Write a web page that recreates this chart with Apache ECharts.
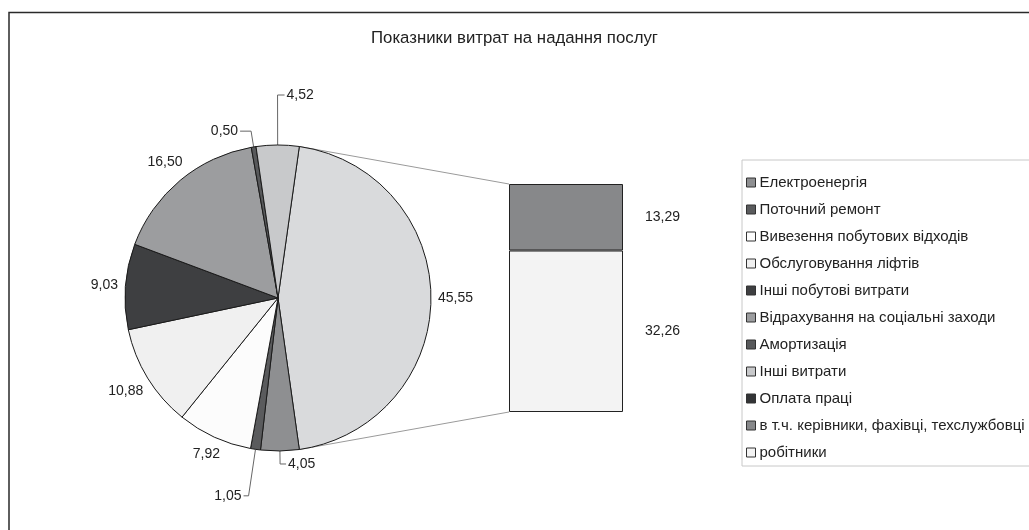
<!DOCTYPE html>
<html>
<head>
<meta charset="utf-8">
<script src="https://cdn.jsdelivr.net/npm/echarts@6/dist/echarts.min.js"></script>
<style>
  html, body { margin: 0; padding: 0; background: #fff; }
  #chart { width: 1029px; height: 530px; }
</style>
</head>
<body>
<div id="chart"></div>
<script>
// data
const pieNames = [
  "Електроенергія",
  "Поточний ремонт",
  "Вивезення побутових відходів",
  "Обслуговування ліфтів",
  "Інші побутові витрати",
  "Відрахування на соціальні заходи",
  "Амортизація",
  "Інші витрати"
];
const pieValues = [4.05, 1.05, 7.92, 10.88, 9.03, 16.50, 0.50, 4.52];
const otherName = "Оплата праці";
const barNames = ["в т.ч. керівники, фахівці, техслужбовці", "робітники"];
const barValues = [13.29, 32.26];

// styles
const pieColors = ["#8e8f91", "#5a5b5d", "#fcfcfc", "#f0f0f0", "#3e3f41", "#9c9d9f", "#58595b", "#c8c9cb"];
const otherColor = "#d9dadc";
const otherLegendColor = "#333436";
const barColors = ["#87888a", "#f3f3f3"];
const font = "'Liberation Sans', Arial, sans-serif";

const cx = 278, cy = 298, R = 153;
const gridLeft = 509, gridTop = 184, gridW = 114, gridH = 228;

// which slices get a leader line: radial length, horizontal length, side
const leaders = {
  "Інші витрати": { len: 50, len2: 7, side: 1 },
  "Амортизація": { len: 16, len2: 11, side: -1 },
  "Поточний ремонт": { len: 47, len2: 5, side: -1 },
  "Електроенергія": { len: 13, len2: 6, side: 1 }
};

const otherValue = barValues.reduce((a, b) => a + b, 0);
const total = otherValue + pieValues.reduce((a, b) => a + b, 0);
const startAngle = 360 * otherValue / total / 2;

// slice order clockwise: the "other" slice first, then the rest
const sliceNames = [otherName].concat(pieNames);
const sliceValues = [otherValue].concat(pieValues);
const sliceColors = [otherColor].concat(pieColors);

const midAngles = [];
let acc = 0;
sliceValues.forEach(v => {
  const span = 360 * v / total;
  midAngles.push(startAngle - acc - span / 2);
  acc += span;
});

const fmt = v => v.toFixed(2).replace(".", ",");

const chart = echarts.init(document.getElementById("chart"));

const legendData = pieNames.map(n => ({ name: n }))
  .concat([{ name: otherName, itemStyle: { color: otherLegendColor } }])
  .concat(barNames.map(n => ({ name: n })));

const option = {
  animation: false,
  textStyle: { fontFamily: font },
  title: {
    text: "Показники витрат на надання послуг",
    left: "center",
    top: 25,
    textStyle: { fontSize: 16.8, fontWeight: "normal", color: "#222", fontFamily: font }
  },
  legend: {
    orient: "vertical",
    left: 742,
    top: 160,
    data: legendData,
    icon: "rect",
    itemWidth: 9,
    itemHeight: 9,
    itemGap: 12,
    padding: [15, 60, 6, 4],
    borderColor: "#c8c8c8",
    borderWidth: 1,
    itemStyle: { borderColor: "#333", borderWidth: 1 },
    textStyle: { fontSize: 15, color: "#222", fontFamily: font, padding: [0, 0, 0, -1] }
  },
  grid: { left: gridLeft, top: gridTop, width: gridW, height: gridH },
  xAxis: { type: "category", data: [otherName], show: false },
  yAxis: { type: "value", min: 0, max: otherValue, show: false },
  graphic: [{
    id: "frame",
    type: "rect",
    shape: { x: 9, y: 12.5, width: 1100, height: 600 },
    style: { fill: "none", stroke: "#2a2a2a", lineWidth: 1.5 },
    silent: true
  }],
  series: [
    {
      type: "pie",
      center: [cx, cy],
      radius: R,
      startAngle: startAngle,
      clockwise: true,
      avoidLabelOverlap: false,
      data: sliceNames.map((n, i) => ({
        name: n,
        value: sliceValues[i],
        itemStyle: { color: sliceColors[i] },
        labelLine: { show: !!leaders[n] }
      })),
      itemStyle: { borderColor: "#1a1a1a", borderWidth: 1 },
      label: {
        position: "outside",
        formatter: p => fmt(p.value),
        fontSize: 14,
        color: "#222",
        fontFamily: font
      },
      labelLine: { lineStyle: { color: "#666", width: 1 } },
      labelLayout: function (p) {
        const i = p.dataIndex;
        const rad = midAngles[i] * Math.PI / 180;
        const dx = Math.cos(rad), dy = -Math.sin(rad);
        const w = p.labelRect.width, h = p.labelRect.height;
        const lead = leaders[sliceNames[i]];
        if (lead) {
          const x1 = cx + R * dx, y1 = cy + R * dy;
          const x2 = x1 + lead.len * dx, y2 = y1 + lead.len * dy;
          const x3 = x2 + lead.side * lead.len2;
          return {
            x: x3 + lead.side * 2, y: y2,
            align: lead.side > 0 ? "left" : "right",
            verticalAlign: "middle",
            labelLinePoints: [[x1, y1], [x2, y2], [x3, y2]]
          };
        }
        const d = R + 7 + Math.abs(dx) * w / 2 + Math.abs(dy) * h / 2;
        return { x: cx + d * dx, y: cy + d * dy, align: "center", verticalAlign: "middle" };
      }
    },
    {
      type: "bar",
      name: barNames[1],
      stack: "other",
      barWidth: "100%",
      data: [barValues[1]],
      itemStyle: { color: barColors[1], borderColor: "#222", borderWidth: 1 },
      label: { show: true, position: "right", distance: 22, formatter: p => fmt(p.value), fontSize: 14, color: "#222" }
    },
    {
      type: "bar",
      name: barNames[0],
      stack: "other",
      barWidth: "100%",
      data: [barValues[0]],
      itemStyle: { color: barColors[0], borderColor: "#222", borderWidth: 1 },
      label: { show: true, position: "right", distance: 22, formatter: p => fmt(p.value), fontSize: 14, color: "#222" }
    }
  ]
};

chart.setOption(option);

// connector lines from the "other" slice edges to the bar corners
const a0 = startAngle * Math.PI / 180;
const topPie = [cx + R * Math.cos(a0), cy - R * Math.sin(a0)];
const botPie = [cx + R * Math.cos(-a0), cy - R * Math.sin(-a0)];
const yTop = chart.convertToPixel({ yAxisIndex: 0 }, otherValue);
const yBot = chart.convertToPixel({ yAxisIndex: 0 }, 0);
chart.setOption({
  graphic: [
    { id: "c1", type: "line", silent: true, z: 0,
      shape: { x1: topPie[0], y1: topPie[1], x2: gridLeft, y2: yTop },
      style: { stroke: "#9a9a9a", lineWidth: 1 } },
    { id: "c2", type: "line", silent: true, z: 0,
      shape: { x1: botPie[0], y1: botPie[1], x2: gridLeft, y2: yBot },
      style: { stroke: "#9a9a9a", lineWidth: 1 } }
  ]
});
</script>
</body>
</html>
